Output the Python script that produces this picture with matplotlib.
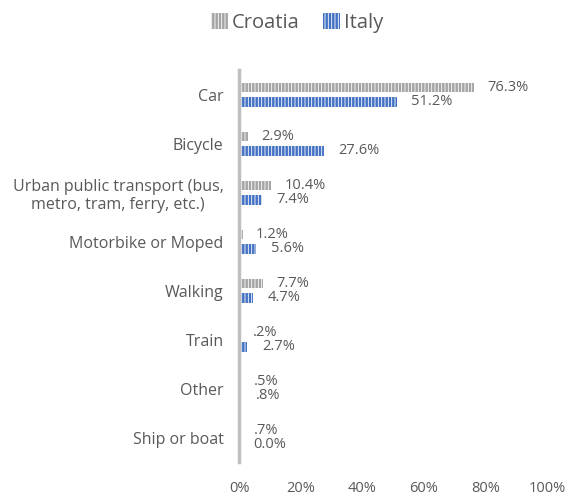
import numpy as np
import matplotlib.pyplot as plt

plt.rcParams['font.family'] = ['Open Sans', 'DejaVu Sans']
plt.rcParams['hatch.linewidth'] = 0.6

# Share of trips by transport mode
categories = ['Car', 'Bicycle', 'Urban public transport (bus,\nmetro, tram, ferry, etc.)',
              'Motorbike or Moped', 'Walking', 'Train', 'Other', 'Ship or boat']
croatia = [76.3, 2.9, 10.4, 1.2, 7.7, 0.2, 0.5, 0.7]
italy = [51.2, 27.6, 7.4, 5.6, 4.7, 2.7, 0.8, 0.0]
croatia_labels = ['76.3%', '2.9%', '10.4%', '1.2%', '7.7%', '.2%', '.5%', '.7%']
italy_labels = ['51.2%', '27.6%', '7.4%', '5.6%', '4.7%', '2.7%', '.8%', '0.0%']

text_color = '#595959'
gray = '#A5A5A5'
blue = '#4472C4'

fig = plt.figure(figsize=(5.66, 4.99), dpi=100)
ax = fig.add_axes([0.4223, 0.0741, 0.5442, 0.7856])

y = np.arange(len(categories))
h = 0.2
off = 0.145
b1 = ax.barh(y - off, croatia, height=h, color=gray, edgecolor='white',
             linewidth=0, hatch='|||||', label='Croatia')
b2 = ax.barh(y + off, italy, height=h, color=blue, edgecolor='white',
             linewidth=0, hatch='|||||', label='Italy')

for yi, v, s in zip(y - off, croatia, croatia_labels):
    ax.annotate(s, (v, yi), xytext=(9.5, 0), textcoords='offset points',
                va='center', ha='left', fontsize=10.5, color=text_color)
for yi, v, s in zip(y + off, italy, italy_labels):
    ax.annotate(s, (v, yi), xytext=(10.5, 0), textcoords='offset points',
                va='center', ha='left', fontsize=10.5, color=text_color)

ax.set_xlim(0, 100)
ax.set_ylim(len(categories) - 0.5, -0.5)
ax.set_yticks(y)
ax.set_yticklabels(categories, multialignment='center')
ax.set_xticks(np.arange(0, 101, 20))
ax.set_xticklabels([f'{t}%' for t in range(0, 101, 20)])
ax.tick_params(axis='y', length=0, pad=11, labelsize=11.5, labelcolor=text_color)
ax.tick_params(axis='x', length=0, pad=14, labelsize=10.5, labelcolor=text_color)

for side in ['top', 'right', 'bottom']:
    ax.spines[side].set_visible(False)
ax.spines['left'].set_color('#BFBFBF')
ax.spines['left'].set_linewidth(2.5)

fig.legend(handles=[b1, b2], loc='upper center', bbox_to_anchor=(0.525, 1.01),
           ncol=2, frameon=False, fontsize=14.5, handlelength=0.8,
           handleheight=0.8, handletextpad=0.2, columnspacing=1.2,
           labelcolor=text_color)

fig.savefig('out.png', dpi=100)
